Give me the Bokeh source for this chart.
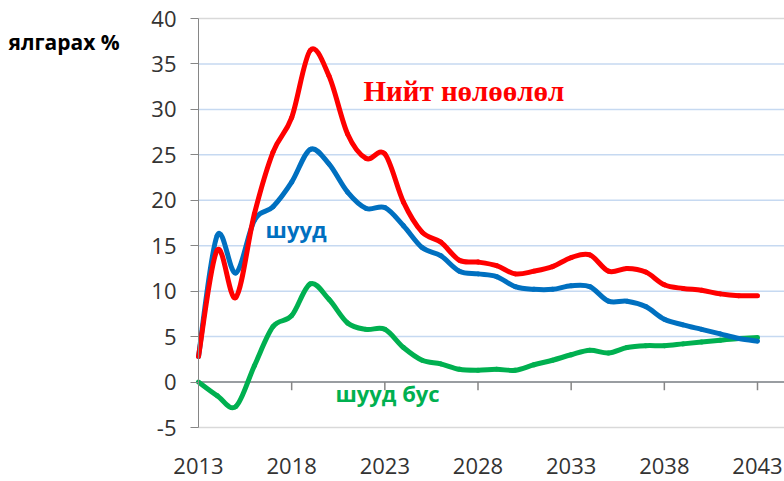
from bokeh.plotting import figure
from bokeh.models import Label, FixedTicker, Range1d, PrintfTickFormatter
from bokeh.embed import file_html
from bokeh.resources import INLINE

years = list(range(2013, 2044))
total = [2.8, 14.5, 9.3, 18.5, 25.3, 29.1, 36.5, 33.7, 27.3, 24.6, 25.1,
         19.8, 16.5, 15.4, 13.4, 13.2, 12.8, 11.9, 12.2, 12.7, 13.7,
         14.0, 12.2, 12.5, 12.1, 10.7, 10.3, 10.1, 9.7, 9.5, 9.5]
direct = [2.8, 16.1, 12.0, 17.8, 19.3, 22.0, 25.6, 24.0, 20.9, 19.1, 19.2,
          17.2, 14.8, 13.9, 12.2, 11.9, 11.6, 10.5, 10.2, 10.2, 10.6,
          10.5, 8.9, 8.9, 8.3, 6.9, 6.3, 5.8, 5.3, 4.8, 4.5]
indirect = [0.0, -1.5, -2.7, 1.8, 6.1, 7.3, 10.8, 9.1, 6.5, 5.8, 5.8,
            3.8, 2.4, 2.0, 1.4, 1.3, 1.4, 1.3, 1.9, 2.4, 3.0,
            3.5, 3.2, 3.8, 4.0, 4.0, 4.2, 4.4, 4.6, 4.8, 4.9]

x_ticks = [2013, 2018, 2023, 2028, 2033, 2038, 2043]
y_ticks = [-5, 0, 5, 10, 15, 20, 25, 30, 35, 40]

series_names = ["Нийт нөлөөлөл", "шууд", "шууд бус"]
y_title = "ялгарах %"
colors = ["#FF0000", "#0070C0", "#00B050"]

# layout: the frame covers the whole canvas; axes are pinned inside it
FRAME_W, FRAME_H = 784, 481
AXIS_X_PX = 198                 # y axis position (from left)
TOP_PX, BOTTOM_PX = 18, 427     # pixel rows of the top and bottom ticks
PX_PER_YEAR = (757 - AXIS_X_PX) / (x_ticks[-1] - x_ticks[0])
PX_PER_UNIT = (BOTTOM_PX - TOP_PX) / (y_ticks[-1] - y_ticks[0])
x_start = x_ticks[0] - AXIS_X_PX / PX_PER_YEAR
x_end = x_ticks[0] + (FRAME_W - AXIS_X_PX) / PX_PER_YEAR
y_top = y_ticks[-1] + TOP_PX / PX_PER_UNIT
y_bottom = y_ticks[0] - (FRAME_H - BOTTOM_PX) / PX_PER_UNIT

p = figure(frame_width=FRAME_W, frame_height=FRAME_H, output_backend="svg",
           toolbar_location=None, min_border=0,
           x_range=Range1d(x_start, x_end), y_range=Range1d(y_bottom, y_top))
p.outline_line_color = None
p.background_fill_color = "white"
p.border_fill_color = "white"
p.xgrid.grid_line_color = None
p.ygrid.grid_line_color = None

# y axis
p.yaxis.fixed_location = x_ticks[0]
p.yaxis.bounds = (y_ticks[0], y_ticks[-1])
p.yaxis.ticker = FixedTicker(ticks=y_ticks)
p.yaxis.formatter = PrintfTickFormatter(format="%d")
p.yaxis.axis_line_color = "#868686"
p.yaxis.major_tick_line_color = "#868686"
p.yaxis.major_tick_out = 8
p.yaxis.major_tick_in = 0
p.yaxis.minor_tick_line_color = None
p.yaxis.major_label_standoff = 14
p.yaxis.major_label_text_font = "Open Sans"
p.yaxis.major_label_text_font_size = "22px"
p.yaxis.major_label_text_color = "#333333"

# x axis (labels only, below the plot area)
p.xaxis.fixed_location = y_ticks[0]
p.xaxis.ticker = FixedTicker(ticks=x_ticks)
p.xaxis.formatter = PrintfTickFormatter(format="%d")
p.xaxis.axis_line_color = None
p.xaxis.major_tick_line_color = None
p.xaxis.minor_tick_line_color = None
p.xaxis.major_tick_out = 0
p.xaxis.major_tick_in = 0
p.xaxis.major_label_standoff = 30
p.xaxis.major_label_text_font = "Open Sans"
p.xaxis.major_label_text_font_size = "22px"
p.xaxis.major_label_text_color = "#333333"

# horizontal gridlines starting at the y axis
inner = y_ticks[1:-1]
p.segment(x0=[x_ticks[0]] * len(inner), x1=[x_end] * len(inner), y0=inner, y1=inner,
          line_color="#C6D9F1", line_width=1.5)
# plot-area borders at top and bottom
edges = [y_ticks[0], y_ticks[-1]]
p.segment(x0=[x_ticks[0]] * 2, x1=[x_end] * 2, y0=edges, y1=edges,
          line_color="#D9D9D9", line_width=1.5)
# horizontal axis line through zero with downward tick marks
p.segment(x0=[x_ticks[0]], x1=[x_end], y0=[0], y1=[0], line_color="#868686", line_width=1.5)
p.segment(x0=x_ticks[1:], y0=[0] * (len(x_ticks) - 1), x1=x_ticks[1:],
          y1=[-0.9] * (len(x_ticks) - 1), line_color="#868686", line_width=1.5)


def smooth_segments(xs, ys, t=1.0 / 6.0):
    n = len(xs)
    out = dict(x0=[], y0=[], x1=[], y1=[], cx0=[], cy0=[], cx1=[], cy1=[])
    for i in range(n - 1):
        i0 = max(i - 1, 0)
        i3 = min(i + 2, n - 1)
        out["x0"].append(xs[i]); out["y0"].append(ys[i])
        out["x1"].append(xs[i + 1]); out["y1"].append(ys[i + 1])
        out["cx0"].append(xs[i] + (xs[i + 1] - xs[i0]) * t)
        out["cy0"].append(ys[i] + (ys[i + 1] - ys[i0]) * t)
        out["cx1"].append(xs[i + 1] - (xs[i3] - xs[i]) * t)
        out["cy1"].append(ys[i + 1] - (ys[i3] - ys[i]) * t)
    return out


for vals, col in zip([indirect, direct, total], [colors[2], colors[1], colors[0]]):
    seg = smooth_segments(years, vals)
    p.bezier(line_color=col, line_width=5, line_cap="round", **seg)

# text labels
p.add_layout(Label(x=x_start + 8 / PX_PER_YEAR, y=37.4, text=y_title,
                   text_font="Open Sans", text_font_style="bold", text_font_size="21px",
                   text_color="#000000", text_baseline="alphabetic"))
p.add_layout(Label(x=2021.85, y=32.0, text=series_names[0], text_font="Liberation Serif",
                   text_font_style="bold", text_font_size="29px", text_color=colors[0],
                   text_baseline="alphabetic"))
p.add_layout(Label(x=2016.6, y=16.8, text=series_names[1], text_font="Open Sans",
                   text_font_style="bold", text_font_size="22px", text_color=colors[1],
                   text_baseline="alphabetic"))
p.add_layout(Label(x=2020.35, y=-1.25, text=series_names[2], text_font="Open Sans",
                   text_font_style="bold", text_font_size="22px", text_color=colors[2],
                   text_baseline="alphabetic"))

open("out.html", "w").write(file_html(p, INLINE))
